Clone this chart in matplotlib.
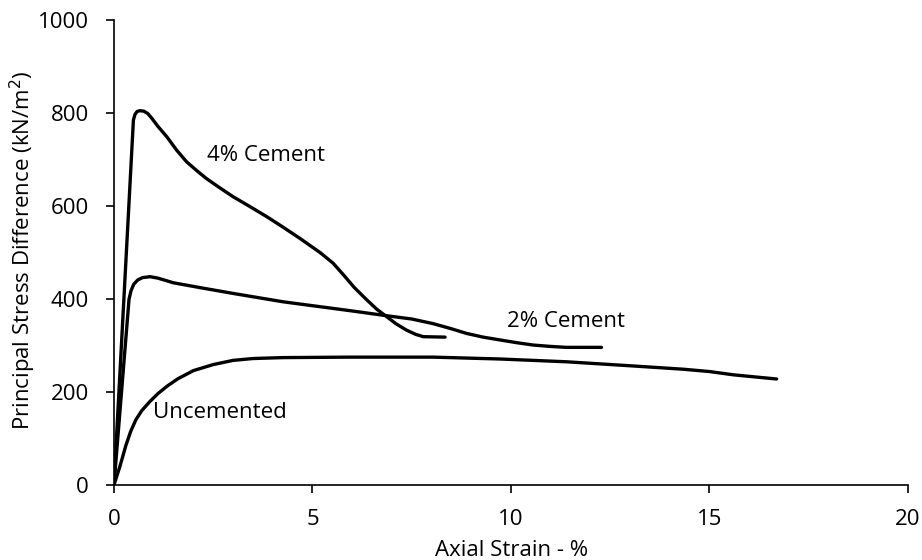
import matplotlib
matplotlib.use('Agg')
import matplotlib.pyplot as plt

# strain (%) vs principal stress difference (kN/m2)
strain_4 = [0, 0.25, 0.49, 0.53, 0.58, 0.65, 0.75, 0.85, 0.95, 1.1, 1.33, 1.58, 1.83, 2.1,
            2.33, 2.65, 3.0, 3.4, 3.85, 4.25, 4.69, 5.19, 5.52, 5.78, 6.05, 6.37, 6.62,
            6.87, 7.1, 7.37, 7.6, 7.79, 8.34]
stress_4 = [0, 400, 785, 797, 803, 805, 804, 799, 789, 772, 749, 720, 695, 675,
            659, 640, 620, 600, 577, 555, 530, 500, 477, 452, 425, 398, 378,
            362, 347, 333, 324, 319, 318]

strain_2 = [0, 0.2, 0.38, 0.43, 0.5, 0.6, 0.72, 0.91, 1.1, 1.3, 1.49, 2.2, 3.0, 4.26,
            5.94, 6.87, 7.5, 8.04, 8.5, 8.88, 9.3, 9.72, 10.15, 10.56, 11.0, 11.4, 12.28]
stress_2 = [0, 210, 400, 418, 432, 441, 446, 448, 445, 440, 435, 424, 412, 394,
            375, 364, 357, 347, 336, 326, 318, 312, 306, 301, 298, 296, 296]

strain_u = [0, 0.15, 0.3, 0.42, 0.55, 0.7, 0.91, 1.1, 1.33, 1.6, 2.0, 2.5, 3.0, 3.5,
            4.26, 5.94, 8.04, 9.72, 11.4, 13.08, 14.34, 15.0, 15.6, 16.2, 16.69]
stress_u = [0, 40, 85, 115, 140, 160, 180, 196, 212, 228, 246, 259, 268, 272,
            274, 275, 275, 271, 265, 256, 249, 244, 237, 232, 228]

plt.rcParams['font.family'] = ['Open Sans', 'DejaVu Sans']
fs = 16

fig = plt.figure(figsize=(9.22, 5.6), dpi=100)
ax = fig.add_axes([0.1236, 0.1339, 0.8612, 0.8304])

for xs, ys in [(strain_4, stress_4), (strain_2, stress_2), (strain_u, stress_u)]:
    ax.plot(xs, ys, color='black', linewidth=2.4,
            solid_joinstyle='round', solid_capstyle='round')

# curve labels
ax.text(2.34, 697, '4% Cement', fontsize=fs, va='baseline')
ax.text(9.9, 340, '2% Cement', fontsize=fs, va='baseline')
ax.text(0.98, 144, 'Uncemented', fontsize=fs, va='baseline')

ax.set_xlim(0, 20)
ax.set_ylim(0, 1000)
ax.set_xticks([0, 5, 10, 15, 20])
ax.set_yticks([0, 200, 400, 600, 800, 1000])
ax.spines['top'].set_visible(False)
ax.spines['right'].set_visible(False)
ax.spines['left'].set_linewidth(1.2)
ax.spines['bottom'].set_linewidth(1.2)
ax.tick_params(labelsize=fs, length=6, width=1.2, direction='out')
ax.tick_params(axis='y', pad=12)
ax.tick_params(axis='x', pad=11)

fig.text(0.5543, 0.008, 'Axial Strain - %', fontsize=fs, ha='center', va='baseline')
fig.text(0.025, 0.5536, 'Principal Stress Difference (kN/m$^2$)', fontsize=fs,
         rotation=90, ha='center', va='center')

fig.savefig('out.png', dpi=100)
